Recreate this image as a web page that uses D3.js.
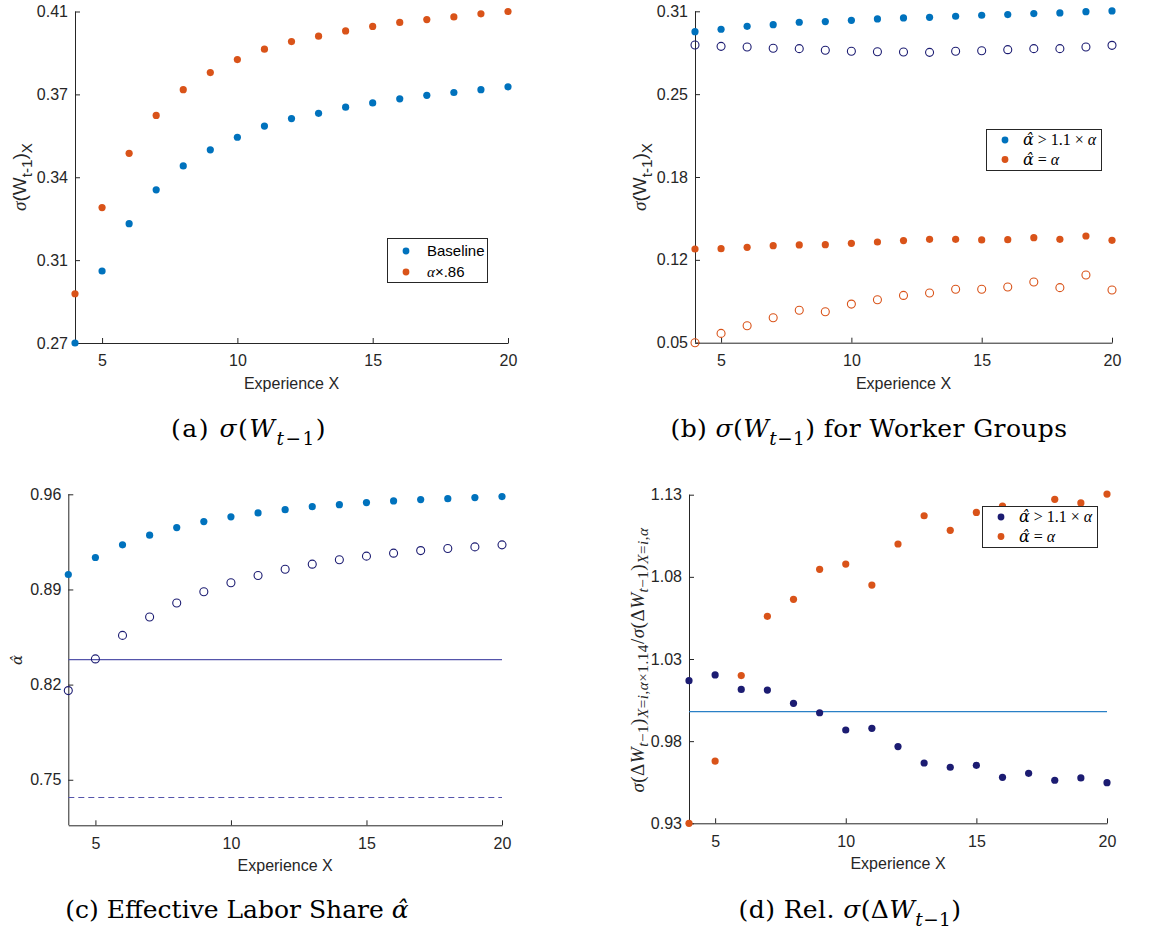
<!DOCTYPE html>
<html><head><meta charset="utf-8">
<script src="https://cdn.jsdelivr.net/npm/d3@7/dist/d3.min.js"></script>
<style>body{margin:0;background:#fff} svg{display:block}</style>
</head><body><svg id="chart" width="1160" height="930"></svg>
<script>
// ---------------- data ----------------
const experience = [4,5,6,7,8,9,10,11,12,13,14,15,16,17,18,19,20];
const xTicks = [5,10,15,20];

// (a)
const aBaseline = [0.2700,0.3004,0.3204,0.3347,0.3448,0.3516,0.3569,0.3616,0.3648,0.3670,0.3696,0.3714,0.3731,0.3746,0.3758,0.3770,0.3782];
const aAlpha86  = [0.2908,0.3272,0.3501,0.3661,0.3770,0.3842,0.3897,0.3941,0.3973,0.3996,0.4018,0.4037,0.4054,0.4066,0.4077,0.4090,0.4100];
const aTicks = [0.27,0.305,0.34,0.375,0.41];
const aTickLabels = ["0.27","0.31","0.34","0.37","0.41"];

// (b)
const bHighFilled = [0.2940,0.2959,0.2982,0.2995,0.3014,0.3019,0.3029,0.3040,0.3048,0.3053,0.3061,0.3069,0.3074,0.3082,0.3087,0.3097,0.3103];
const bHighOpen   = [0.2836,0.2825,0.2820,0.2810,0.2807,0.2794,0.2786,0.2783,0.2781,0.2778,0.2786,0.2791,0.2799,0.2807,0.2807,0.2820,0.2833];
const bEqFilled   = [0.1235,0.1238,0.1248,0.1261,0.1267,0.1269,0.1280,0.1290,0.1301,0.1311,0.1311,0.1306,0.1308,0.1324,0.1311,0.1337,0.1303];
const bEqOpen     = [0.0500,0.0573,0.0633,0.0696,0.0754,0.0743,0.0803,0.0837,0.0871,0.0890,0.0919,0.0919,0.0937,0.0976,0.0932,0.1031,0.0913];
const bTicks = [0.05,0.115,0.18,0.245,0.31];
const bTickLabels = ["0.05","0.12","0.18","0.25","0.31"];

// (c)
const cHighFilled = [0.9010,0.9135,0.9228,0.9299,0.9355,0.9399,0.9434,0.9463,0.9487,0.9509,0.9524,0.9539,0.9551,0.9561,0.9568,0.9576,0.9583];
const cHighOpen   = [0.8156,0.8389,0.8562,0.8697,0.8800,0.8883,0.8949,0.9003,0.9049,0.9086,0.9118,0.9145,0.9167,0.9186,0.9201,0.9213,0.9228];
const cRefSolid = 0.8384;
const cRefDashed = 0.7370;
const cTicks = [0.75,0.82,0.89,0.96];
const cTickLabels = ["0.75","0.82","0.89","0.96"];

// (d)
const dHigh = [1.0168,1.0203,1.0115,1.0111,1.0030,0.9973,0.9868,0.9878,0.9767,0.9667,0.9641,0.9653,0.9580,0.9604,0.9562,0.9576,0.9547];
const dEq   = [0.9300,0.9679,1.0199,1.0560,1.0663,1.0846,1.0878,1.0750,1.1000,1.1172,1.1083,1.1192,1.1231,1.1200,1.1272,1.1250,1.1304];
const dRef = 0.998;
const dTicks = [0.93,0.98,1.03,1.08,1.13];
const dTickLabels = ["0.93","0.98","1.03","1.08","1.13"];

// ---------------- style ----------------
const BLUE = "#0072BD", ORANGE = "#D95319", NAVY = "#1c1c72", NAVYLINE = "#5555ab", REFBLUE = "#2a80c6";
const INK = "#262626";
const SANS = "'Liberation Sans', Arial, sans-serif";
const SERIF = "'Liberation Serif', 'Times New Roman', serif";
const CAPSERIF = "'DejaVu Serif', serif";

const svg = d3.select("#chart");

// rich text helper: parts = [{t, it, f:'serif'|'sans'|'cap', lv}]
function rich(textSel, parts, base, family, subRatio, subOff) {
  const sr = subRatio || 0.72;
  const so = subOff || 0.32;
  const off = [0, so, so * 1.6];
  const sz = [1, sr, sr * 0.78];
  let cur = 0;
  parts.forEach(p => {
    const lv = p.lv || 0;
    const ts = textSel.append("tspan").text(p.t)
      .attr("font-size", base * sz[lv])
      .attr("font-style", p.it ? "italic" : "normal")
      .attr("font-family", p.f === "sans" ? SANS : (p.f === "cap" ? CAPSERIF : (family || SERIF)));
    const dy = (off[lv] - off[cur]) * base;
    if (dy !== 0) ts.attr("dy", dy);
    cur = lv;
  });
}

function panel(cfg) {
  const g = svg.append("g");
  const x = d3.scaleLinear().domain([4, 20]).range([cfg.left, cfg.right]);
  const y = d3.scaleLinear().domain(cfg.yDomain).range([cfg.bottom, cfg.top]);

  const xa = g.append("g").attr("transform", `translate(0,${cfg.bottom})`)
    .call(d3.axisBottom(x).tickValues(xTicks).tickFormat(d3.format("d"))
      .tickSizeInner(-5).tickSizeOuter(0).tickPadding(12));
  const ya = g.append("g").attr("transform", `translate(${cfg.left},0)`)
    .call(d3.axisLeft(y).tickValues(cfg.ticks).tickFormat((d, i) => cfg.labels[i])
      .tickSizeInner(-5).tickSizeOuter(0).tickPadding(7));
  [xa, ya].forEach(a => {
    a.attr("font-family", SANS).attr("font-size", 16);
    a.selectAll("path,line").attr("stroke", INK).attr("stroke-width", 1);
    a.selectAll("text").attr("fill", INK);
  });
  ya.select(".domain").attr("d", `M0.5,${cfg.bottom}V${cfg.top}`);

  // x label
  g.append("text").attr("x", (cfg.left + cfg.right) / 2).attr("y", cfg.bottom + 46)
    .attr("text-anchor", "middle").attr("font-family", SANS).attr("font-size", 16)
    .attr("fill", INK).text("Experience X");

  // reference lines
  (cfg.hlines || []).forEach(h => {
    g.append("line").attr("x1", x(4)).attr("x2", x(20)).attr("y1", y(h.v)).attr("y2", y(h.v))
      .attr("stroke", h.color).attr("stroke-width", 1.1)
      .attr("stroke-dasharray", h.dash || null);
  });

  // series
  cfg.series.forEach(s => {
    g.append("g").selectAll("circle").data(s.values).join("circle")
      .attr("cx", (d, i) => x(experience[i])).attr("cy", d => y(d))
      .attr("r", s.open ? 4 : 3.6)
      .attr("fill", s.open ? "none" : s.color)
      .attr("stroke", s.color).attr("stroke-width", s.open ? 1.1 : 0);
  });

  // y label
  const yl = g.append("text").attr("transform", `translate(${cfg.ylabX},${cfg.ylabY}) rotate(-90)`)
    .attr("text-anchor", "middle").attr("fill", INK)
    .attr("letter-spacing", cfg.ylabSpacing || 0);
  rich(yl, cfg.ylabel, cfg.ylabSize || 16, null, cfg.ylabSub, cfg.ylabSubOff);

  // legend
  if (cfg.legend) {
    const L = cfg.legend;
    g.append("rect").attr("x", L.x + 0.5).attr("y", L.y + 0.5).attr("width", L.w).attr("height", L.h)
      .attr("fill", "#fff").attr("stroke", INK).attr("stroke-width", 1);
    L.items.forEach((it, i) => {
      const ry = L.y + L.row0 + i * L.dy;
      g.append("circle").attr("cx", L.x + L.mx).attr("cy", ry).attr("r", 3.4).attr("fill", it.color);
      const t = g.append("text").attr("x", L.x + L.tx).attr("y", ry + 5).attr("fill", "#000");
      rich(t, it.parts, L.size || 15);
    });
  }

  // caption
  const cap = svg.append("text").attr("x", cfg.capX).attr("y", cfg.capY)
    .attr("text-anchor", "middle").attr("fill", "#000")
    .attr("letter-spacing", cfg.capSpacing == null ? 0.4 : cfg.capSpacing);
  rich(cap, cfg.caption, 25, CAPSERIF, 0.74);
}

const ylabA = [
  {t: "σ", it: true, f: "serif"}, {t: "(W", f: "sans"}, {t: "t-1", f: "sans", lv: 1},
  {t: ")", f: "sans"}, {t: "X", f: "sans", lv: 1}
];

const legHigh = [{t: "α̂", it: true, f: "cap"}, {t: " > 1.1 × "}, {t: "α", it: true}];
const legEq = [{t: "α̂", it: true, f: "cap"}, {t: " = "}, {t: "α", it: true}];

// (a)
panel({
  left: 75, right: 508, top: 11.5, bottom: 343, yDomain: [0.27, 0.41],
  ticks: aTicks, labels: aTickLabels,
  series: [{values: aBaseline, color: BLUE}, {values: aAlpha86, color: ORANGE}],
  ylabX: 26, ylabY: 177, ylabSize: 19, ylabSub: 0.8, ylabel: ylabA,
  legend: {x: 387, y: 238, w: 100, h: 44, mx: 19, tx: 40, row0: 13, dy: 21, size: 15,
    items: [
      {color: BLUE, parts: [{t: "Baseline", f: "sans"}]},
      {color: ORANGE, parts: [{t: "α", it: true}, {t: "×.86", f: "sans"}]}
    ]},
  capX: 249, capY: 437, capSpacing: 1.5,
  caption: [{t: "(a) "}, {t: "σ", it: true}, {t: "("}, {t: "W", it: true},
    {t: "t", it: true, lv: 1}, {t: "−1", lv: 1}, {t: ")"}]
});

// (b)
panel({
  left: 695, right: 1112, top: 11.3, bottom: 342.7, yDomain: [0.05, 0.31],
  ticks: bTicks, labels: bTickLabels,
  series: [
    {values: bHighOpen, color: NAVY, open: true},
    {values: bEqOpen, color: ORANGE, open: true},
    {values: bHighFilled, color: BLUE},
    {values: bEqFilled, color: ORANGE}
  ],
  ylabX: 646, ylabY: 177, ylabSize: 19, ylabSub: 0.8, ylabel: ylabA,
  legend: {x: 986, y: 129, w: 115, h: 41, mx: 19, tx: 37, row0: 11, dy: 19.5, size: 16,
    items: [{color: BLUE, parts: legHigh}, {color: ORANGE, parts: legEq}]},
  capX: 869, capY: 437,
  caption: [{t: "(b) "}, {t: "σ", it: true}, {t: "("}, {t: "W", it: true},
    {t: "t", it: true, lv: 1}, {t: "−1", lv: 1}, {t: ") for Worker Groups"}]
});

// (c)
panel({
  left: 68.3, right: 502, top: 494.3, bottom: 825.3, yDomain: [0.7165, 0.96],
  ticks: cTicks, labels: cTickLabels,
  hlines: [{v: cRefSolid, color: NAVYLINE}, {v: cRefDashed, color: NAVYLINE, dash: "6,4"}],
  series: [{values: cHighOpen, color: NAVY, open: true}, {values: cHighFilled, color: BLUE}],
  ylabX: 22, ylabY: 660, ylabSize: 15, ylabel: [{t: "α̂", it: true, f: "cap"}],
  capX: 237, capY: 918, capSpacing: 0,
  caption: [{t: "(c) Effective Labor Share "}, {t: "α̂", it: true}]
});

// (d)
panel({
  left: 689, right: 1107, top: 494.7, bottom: 823.3, yDomain: [0.93, 1.13],
  ticks: dTicks, labels: dTickLabels,
  hlines: [{v: dRef, color: REFBLUE}],
  series: [{values: dHigh, color: NAVY}, {values: dEq, color: ORANGE}],
  ylabX: 644, ylabY: 660, ylabSize: 19, ylabSub: 0.8, ylabSubOff: 0.22, ylabSpacing: 0.5,
  ylabel: [
    {t: "σ", it: true}, {t: "(Δ"}, {t: "W", it: true}, {t: "t", it: true, lv: 1}, {t: "−1", lv: 1},
    {t: ")"}, {t: "X", it: true, lv: 1}, {t: "=", lv: 1}, {t: "i", it: true, lv: 1}, {t: ",", lv: 1},
    {t: "α", it: true, lv: 1}, {t: "×1.14", lv: 1}, {t: "/"}, {t: "σ", it: true}, {t: "(Δ"},
    {t: "W", it: true}, {t: "t", it: true, lv: 1}, {t: "−1", lv: 1}, {t: ")"},
    {t: "X", it: true, lv: 1}, {t: "=", lv: 1}, {t: "i", it: true, lv: 1}, {t: ",", lv: 1}, {t: "α", it: true, lv: 1}
  ],
  legend: {x: 982, y: 506, w: 115, h: 41, mx: 19, tx: 37, row0: 11, dy: 19.5, size: 16,
    items: [{color: NAVY, parts: legHigh}, {color: ORANGE, parts: legEq}]},
  capX: 850, capY: 918,
  caption: [{t: "(d) Rel. "}, {t: "σ", it: true}, {t: "(Δ"}, {t: "W", it: true},
    {t: "t", it: true, lv: 1}, {t: "−1", lv: 1}, {t: ")"}]
});
</script></body></html>
